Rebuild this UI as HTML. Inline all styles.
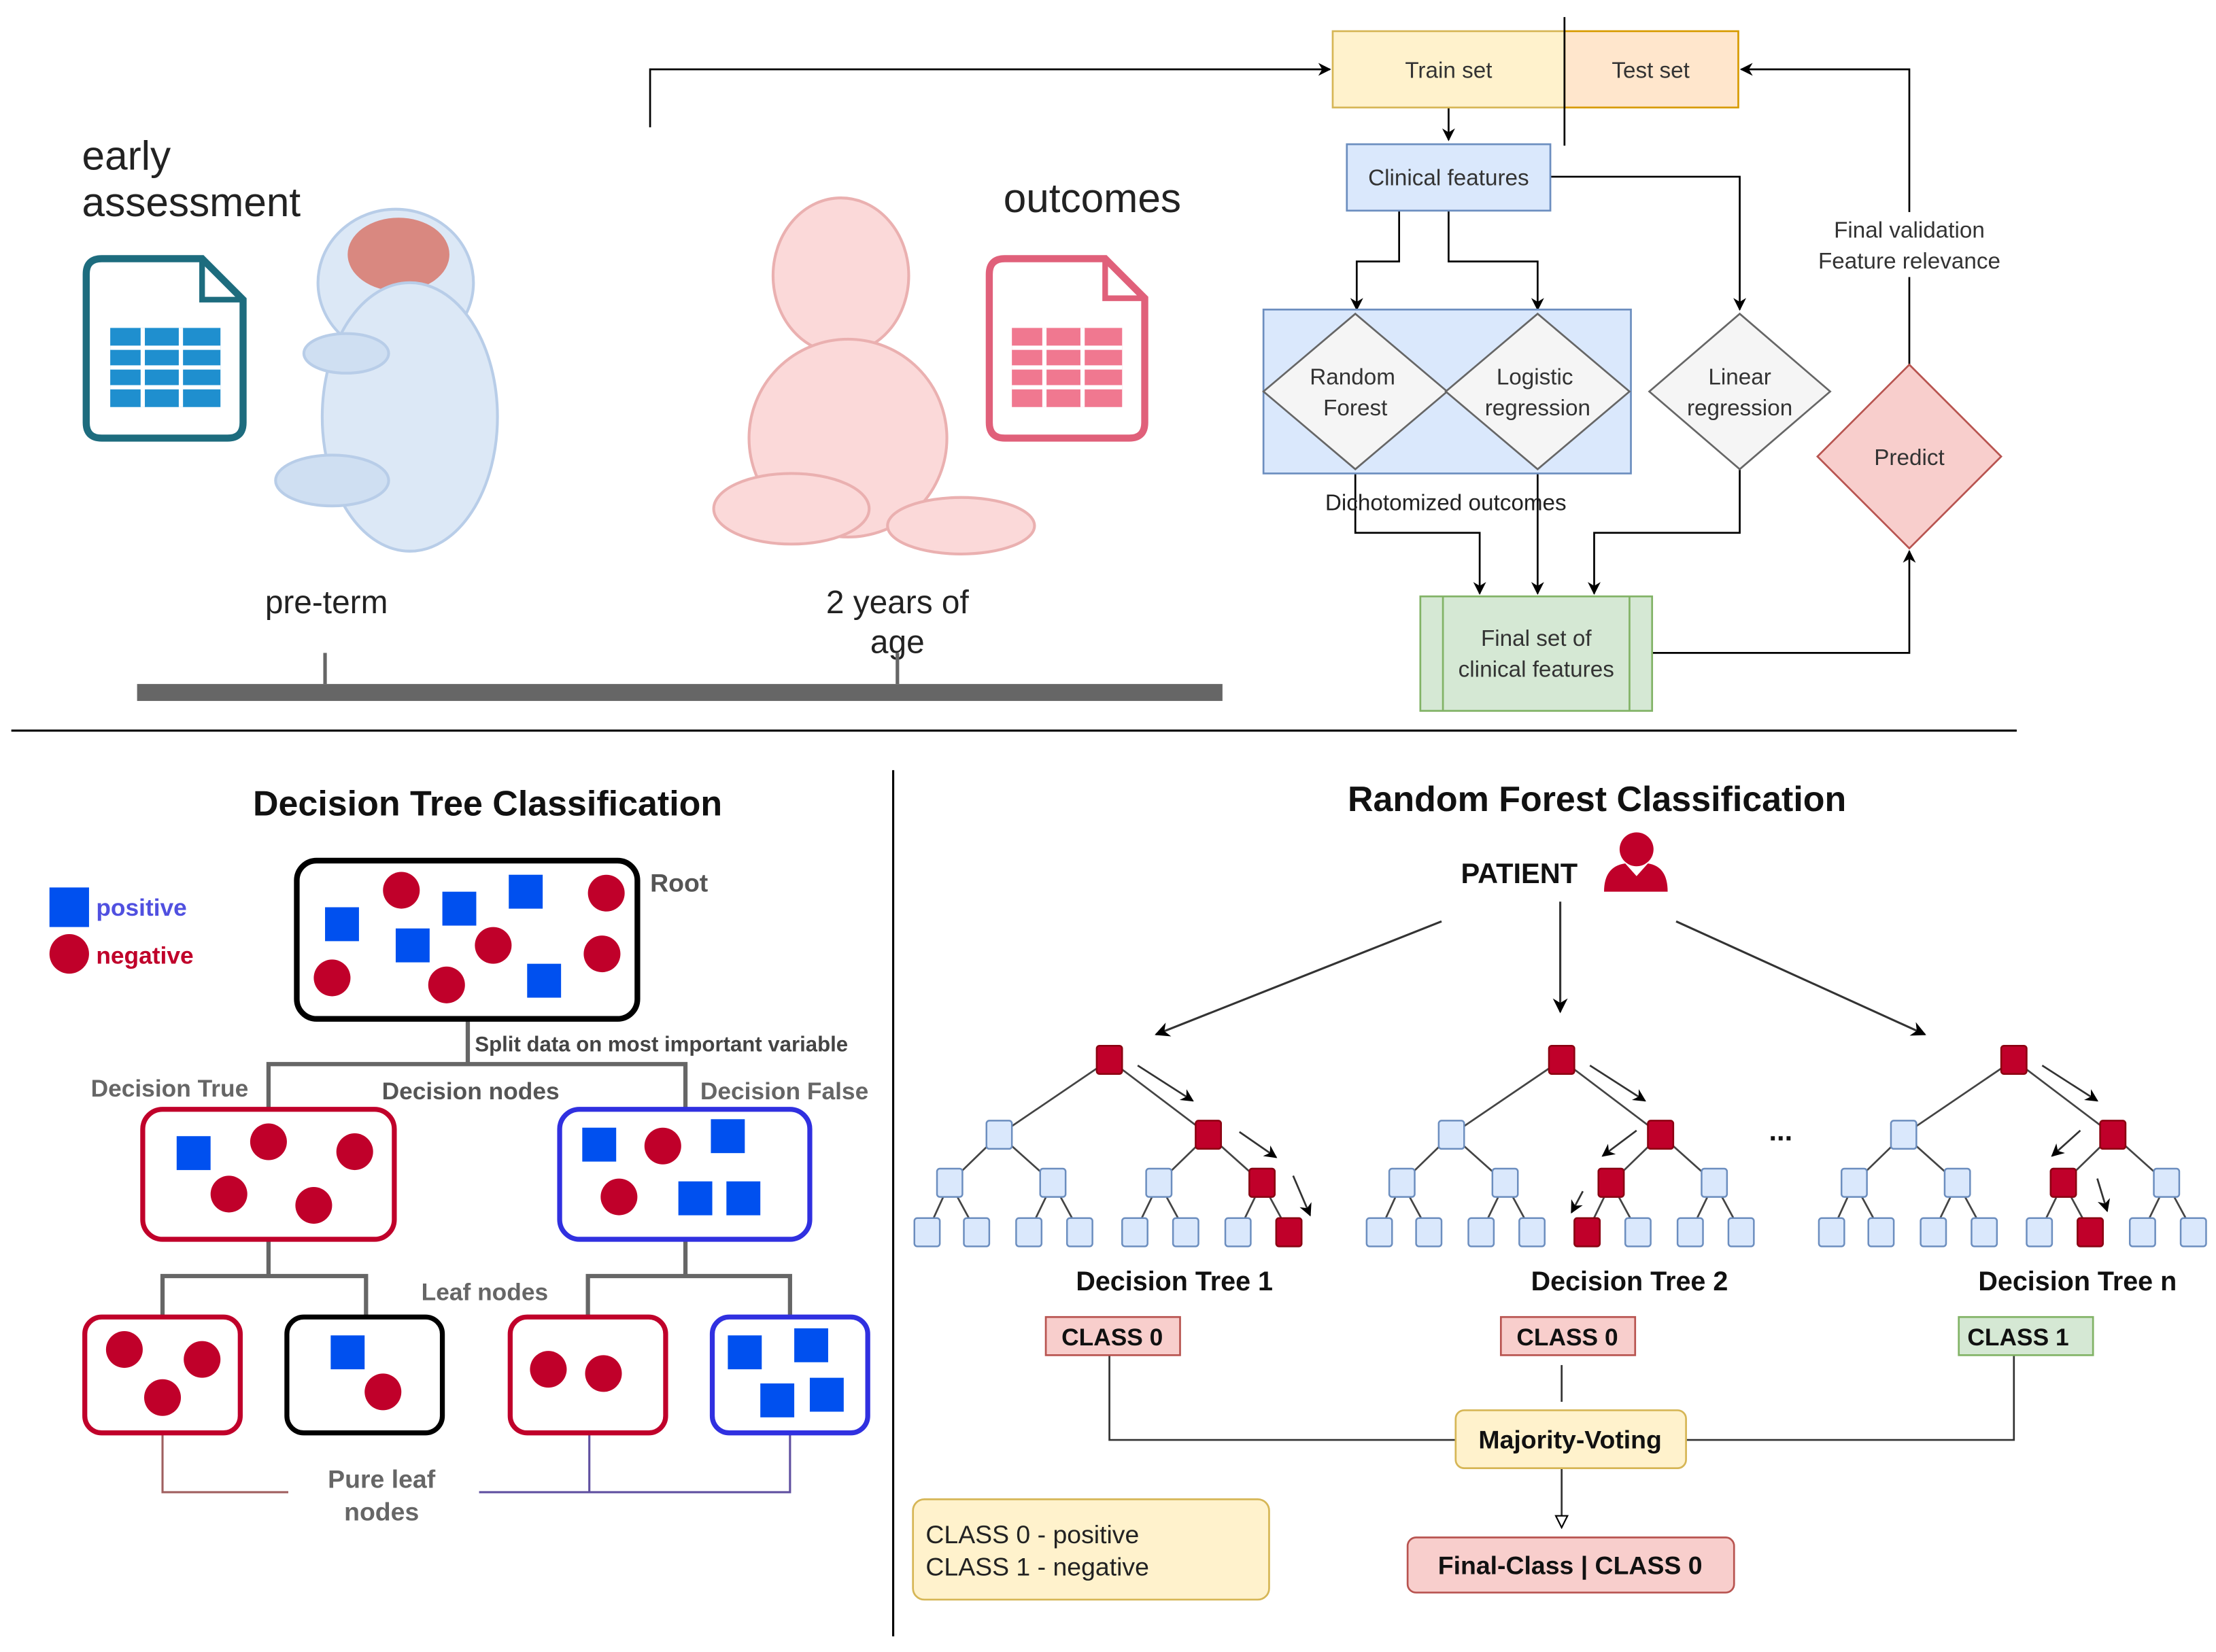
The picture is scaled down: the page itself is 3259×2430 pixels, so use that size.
<!DOCTYPE html>
<html><head><meta charset="utf-8"><style>
html,body{margin:0;padding:0;background:#fff}
svg{display:block}
text{font-family:"Liberation Sans",sans-serif}
</style></head><body>
<svg width="3259" height="2430" viewBox="0 0 1568 1169" xmlns="http://www.w3.org/2000/svg">
<defs>
<marker id="ar" viewBox="0 0 10 10" refX="9" refY="5" markerWidth="7" markerHeight="7" orient="auto-start-reverse"><path d="M0,0 L10,5 L0,10 L3,5 z" fill="#000"/></marker>
<marker id="oa" viewBox="0 0 10 10" refX="9" refY="5" markerWidth="8" markerHeight="8" orient="auto"><path d="M1,1 L9,5 L1,9 z" fill="#fff" stroke="#000"/></marker>
<rect id="b" x="-9" y="-10" width="18" height="20" rx="2" fill="#dae8fc" stroke="#6c8ebf" stroke-width="1.2"/>
<rect id="r" x="-9" y="-10" width="18" height="20" rx="2" fill="#c0002a" stroke="#8b0010" stroke-width="1.2"/>
<g id="tree">
 <g stroke="#444" stroke-width="1.3" fill="none">
  <path d="M785,750 L707,803 M785,750 L855,803 M707,803 L672,837 M707,803 L745,837 M855,803 L820,837 M855,803 L893,837 M672,837 L656,872 M672,837 L691,872 M745,837 L728,872 M745,837 L764,872 M820,837 L803,872 M820,837 L839,872 M893,837 L876,872 M893,837 L912,872"/>
 </g>
 <use href="#r" x="785" y="750"/><use href="#b" x="707" y="803"/><use href="#r" x="855" y="803"/>
 <use href="#b" x="672" y="837"/><use href="#b" x="745" y="837"/><use href="#b" x="820" y="837"/><use href="#b" x="893" y="837"/>
 <use href="#b" x="656" y="872"/><use href="#b" x="691" y="872"/><use href="#b" x="728" y="872"/><use href="#b" x="764" y="872"/><use href="#b" x="803" y="872"/><use href="#b" x="839" y="872"/><use href="#b" x="876" y="872"/><use href="#b" x="912" y="872"/>
 <path d="M805,754 L844,779" stroke="#333" stroke-width="1.3" marker-end="url(#ar)"/>
</g>
</defs>

<g fill="none" stroke="#000" stroke-width="1.3">
<path d="M460,90 L460,49 L941,49" marker-end="url(#ar)"/>
<path d="M1025,76 L1025,99" marker-end="url(#ar)"/>
<path d="M990,149 L990,185 L960,185 L960,219" marker-end="url(#ar)"/>
<path d="M1025,149 L1025,185 L1088,185 L1088,219" marker-end="url(#ar)"/>
<path d="M1097,125 L1231,125 L1231,219" marker-end="url(#ar)"/>
<path d="M959,332 L959,377 L1047,377 L1047,420" marker-end="url(#ar)"/>
<path d="M1088,332 L1088,420" marker-end="url(#ar)"/>
<path d="M1231,332 L1231,377 L1128,377 L1128,420" marker-end="url(#ar)"/>
<path d="M1169,462 L1351,462 L1351,390" marker-end="url(#ar)"/>
<path d="M1351,258 L1351,49 L1232,49" marker-end="url(#ar)"/>
</g>
<rect x="943" y="22" width="164" height="54" fill="#fff2cc" stroke="#d6b656" stroke-width="1.3"/>
<rect x="1107" y="22" width="123" height="54" fill="#ffe6cc" stroke="#d79b00" stroke-width="1.3"/>
<line x1="1107" y1="12" x2="1107" y2="103" stroke="#000" stroke-width="1.3"/>
<text x="1025" y="55" font-size="16" text-anchor="middle" fill="#333">Train set</text>
<text x="1168" y="55" font-size="16" text-anchor="middle" fill="#333">Test set</text>
<rect x="953" y="102" width="144" height="47" fill="#dae8fc" stroke="#6c8ebf" stroke-width="1.3"/>
<text x="1025" y="131" font-size="16" text-anchor="middle" fill="#333">Clinical features</text>
<rect x="894" y="219" width="260" height="116" fill="#dae8fc" stroke="#6c8ebf" stroke-width="1.3"/>
<g fill="#f5f5f5" stroke="#666" stroke-width="1.3">
<path d="M959,222 L1024,277 L959,332 L894,277 z"/>
<path d="M1088,222 L1153,277 L1088,332 L1023,277 z"/>
<path d="M1231,222 L1295,277 L1231,332 L1167,277 z"/>
</g>
<g font-size="16" text-anchor="middle" fill="#333">
<text x="957" y="272">Random</text><text x="959" y="294">Forest</text>
<text x="1086" y="272">Logistic</text><text x="1088" y="294">regression</text>
<text x="1231" y="272">Linear</text><text x="1231" y="294">regression</text>
<rect x="1290" y="150" width="122" height="46" fill="#fff"/>
<text x="1351" y="168">Final validation</text><text x="1351" y="190">Feature relevance</text>
</g>
<text x="1023" y="361" font-size="16" text-anchor="middle" fill="#222">Dichotomized outcomes</text>
<rect x="1005" y="422" width="164" height="81" fill="#d5e8d4" stroke="#82b366" stroke-width="1.3"/>
<line x1="1021" y1="422" x2="1021" y2="503" stroke="#82b366" stroke-width="1.3"/>
<line x1="1153" y1="422" x2="1153" y2="503" stroke="#82b366" stroke-width="1.3"/>
<text x="1087" y="457" font-size="16" text-anchor="middle" fill="#333">Final set of</text>
<text x="1087" y="479" font-size="16" text-anchor="middle" fill="#333">clinical features</text>
<path d="M1351,258 L1416,323 L1351,388 L1286,323 z" fill="#f8cecc" stroke="#b85450" stroke-width="1.3"/>
<text x="1351" y="329" font-size="16" text-anchor="middle" fill="#333">Predict</text>

<text x="58" y="120" font-size="29" fill="#222">early</text>
<text x="58" y="153" font-size="29" fill="#222">assessment</text>
<path d="M72,183 L143,183 L172,212 L172,299 Q172,310 161,310 L72,310 Q61,310 61,299 L61,194 Q61,183 72,183 z" fill="#fff" stroke="#1d6c7e" stroke-width="5"/>
<path d="M143,183 L143,212 L172,212" fill="none" stroke="#1d6c7e" stroke-width="4"/>
<g fill="#1f8fcf"><rect x="78" y="232" width="78" height="56"/></g>
<g stroke="#fff" stroke-width="3"><line x1="78" y1="246" x2="156" y2="246"/><line x1="78" y1="260" x2="156" y2="260"/><line x1="78" y1="274" x2="156" y2="274"/><line x1="101" y1="232" x2="101" y2="288"/><line x1="128" y1="232" x2="128" y2="288"/></g>
<ellipse cx="280" cy="200" rx="55" ry="52" fill="#dce8f6" stroke="#b8cde8" stroke-width="2"/>
<ellipse cx="282" cy="180" rx="36" ry="26" fill="#d98880"/>
<ellipse cx="290" cy="295" rx="62" ry="95" fill="#dce8f6" stroke="#b8cde8" stroke-width="2"/>
<ellipse cx="235" cy="340" rx="40" ry="18" fill="#cfdff2" stroke="#b8cde8" stroke-width="2"/>
<ellipse cx="245" cy="250" rx="30" ry="14" fill="#cfdff2" stroke="#b8cde8" stroke-width="2"/>
<ellipse cx="595" cy="195" rx="48" ry="55" fill="#fbd9d9" stroke="#eab0b0" stroke-width="2"/>
<ellipse cx="600" cy="310" rx="70" ry="70" fill="#fbd9d9" stroke="#eab0b0" stroke-width="2"/>
<ellipse cx="560" cy="360" rx="55" ry="25" fill="#fbd9d9" stroke="#eab0b0" stroke-width="2"/>
<ellipse cx="680" cy="372" rx="52" ry="20" fill="#fbd9d9" stroke="#eab0b0" stroke-width="2"/>
<text x="710" y="150" font-size="29" fill="#222">outcomes</text>
<path d="M711,183 L782,183 L810,211 L810,299 Q810,310 799,310 L711,310 Q700,310 700,299 L700,194 Q700,183 711,183 z" fill="#fff" stroke="#e0607a" stroke-width="5"/>
<path d="M782,183 L782,211 L810,211" fill="none" stroke="#e0607a" stroke-width="4"/>
<rect x="716" y="232" width="78" height="56" fill="#f07890"/>
<g stroke="#fff" stroke-width="3"><line x1="716" y1="246" x2="794" y2="246"/><line x1="716" y1="260" x2="794" y2="260"/><line x1="716" y1="274" x2="794" y2="274"/><line x1="739" y1="232" x2="739" y2="288"/><line x1="766" y1="232" x2="766" y2="288"/></g>
<text x="231" y="434" font-size="23" text-anchor="middle" fill="#222">pre-term</text>
<text x="635" y="434" font-size="23" text-anchor="middle" fill="#222">2 years of</text>
<text x="635" y="462" font-size="23" text-anchor="middle" fill="#222">age</text>
<rect x="97" y="484" width="768" height="12" fill="#666"/>
<line x1="230" y1="462" x2="230" y2="484" stroke="#666" stroke-width="2.5"/>
<line x1="635" y1="462" x2="635" y2="484" stroke="#666" stroke-width="2.5"/>

<line x1="8" y1="517" x2="1427" y2="517" stroke="#000" stroke-width="1.5"/>
<line x1="632" y1="545" x2="632" y2="1158" stroke="#000" stroke-width="1.5"/>

<text x="345" y="577" font-size="25" font-weight="bold" text-anchor="middle" fill="#111">Decision Tree Classification</text>
<rect x="35" y="628" width="28" height="28" fill="#0050ef"/>
<text x="68" y="648" font-size="17" font-weight="bold" fill="#5050e0">positive</text>
<circle cx="49" cy="675" r="14" fill="#c0002a"/>
<text x="68" y="682" font-size="17" font-weight="bold" fill="#c0002a">negative</text>
<g fill="none" stroke="#666" stroke-width="3">
<path d="M331,721 L331,753 M190,785 L190,753 L485,753 L485,785"/>
<path d="M190,877 L190,903 M115,932 L115,903 L259,903 L259,932"/>
<path d="M485,877 L485,903 M416,932 L416,903 L559,903 L559,932"/>
</g>
<path d="M115,1014 L115,1056 L204,1056" fill="none" stroke="#a06060" stroke-width="1.5"/>
<path d="M339,1056 L559,1056 L559,1014 M417,1014 L417,1056" fill="none" stroke="#6050a0" stroke-width="1.5"/>
<rect x="210" y="609" width="241" height="112" rx="14" fill="#fff" stroke="#000" stroke-width="4"/>
<g fill="#c0002a"><circle cx="284" cy="630" r="13"/><circle cx="429" cy="632" r="13"/><circle cx="349" cy="669" r="13"/><circle cx="426" cy="675" r="13"/><circle cx="235" cy="692" r="13"/><circle cx="316" cy="697" r="13"/></g>
<g fill="#0050ef"><rect x="360" y="619" width="24" height="24"/><rect x="313" y="631" width="24" height="24"/><rect x="230" y="642" width="24" height="24"/><rect x="280" y="657" width="24" height="24"/><rect x="373" y="682" width="24" height="24"/></g>
<text x="460" y="631" font-size="18" font-weight="bold" fill="#555">Root</text>
<text x="336" y="744" font-size="15" font-weight="bold" fill="#444">Split data on most important variable</text>
<text x="120" y="776" font-size="17" font-weight="bold" text-anchor="middle" fill="#666">Decision True</text>
<text x="333" y="778" font-size="17" font-weight="bold" text-anchor="middle" fill="#555">Decision nodes</text>
<text x="555" y="778" font-size="17" font-weight="bold" text-anchor="middle" fill="#666">Decision False</text>
<rect x="101" y="785" width="178" height="92" rx="14" fill="#fff" stroke="#c0002a" stroke-width="3.5"/>
<g fill="#c0002a"><circle cx="190" cy="808" r="13"/><circle cx="251" cy="815" r="13"/><circle cx="162" cy="845" r="13"/><circle cx="222" cy="853" r="13"/></g>
<rect x="125" y="804" width="24" height="24" fill="#0050ef"/>
<rect x="396" y="785" width="177" height="92" rx="14" fill="#fff" stroke="#3030e0" stroke-width="3.5"/>
<g fill="#0050ef"><rect x="412" y="798" width="24" height="24"/><rect x="503" y="792" width="24" height="24"/><rect x="480" y="836" width="24" height="24"/><rect x="514" y="836" width="24" height="24"/></g>
<g fill="#c0002a"><circle cx="469" cy="811" r="13"/><circle cx="438" cy="847" r="13"/></g>
<text x="343" y="920" font-size="17" font-weight="bold" text-anchor="middle" fill="#666">Leaf nodes</text>
<rect x="60" y="932" width="110" height="82" rx="12" fill="#fff" stroke="#c0002a" stroke-width="3.5"/>
<g fill="#c0002a"><circle cx="88" cy="955" r="13"/><circle cx="143" cy="962" r="13"/><circle cx="115" cy="989" r="13"/></g>
<rect x="203" y="932" width="110" height="82" rx="12" fill="#fff" stroke="#000" stroke-width="3.5"/>
<rect x="234" y="945" width="24" height="24" fill="#0050ef"/><circle cx="271" cy="985" r="13" fill="#c0002a"/>
<rect x="361" y="932" width="110" height="82" rx="12" fill="#fff" stroke="#c0002a" stroke-width="3.5"/>
<g fill="#c0002a"><circle cx="388" cy="969" r="13"/><circle cx="427" cy="972" r="13"/></g>
<rect x="504" y="932" width="110" height="82" rx="12" fill="#fff" stroke="#3030e0" stroke-width="3.5"/>
<g fill="#0050ef"><rect x="515" y="945" width="24" height="24"/><rect x="562" y="940" width="24" height="24"/><rect x="538" y="979" width="24" height="24"/><rect x="573" y="975" width="24" height="24"/></g>
<text x="270" y="1053" font-size="18" font-weight="bold" text-anchor="middle" fill="#666">Pure leaf</text>
<text x="270" y="1076" font-size="18" font-weight="bold" text-anchor="middle" fill="#666">nodes</text>

<text x="1130" y="574" font-size="25" font-weight="bold" text-anchor="middle" fill="#111">Random Forest Classification</text>
<text x="1075" y="625" font-size="20" font-weight="bold" text-anchor="middle" fill="#111">PATIENT</text>
<circle cx="1158" cy="601" r="12" fill="#c0002a"/>
<path d="M1135,631 Q1135,613 1150,611 L1158,620 L1166,611 Q1180,613 1180,631 z" fill="#c0002a"/>
<g stroke="#333" stroke-width="1.5" fill="none">
<path d="M1020,652 L818,732" marker-end="url(#ar)"/>
<path d="M1104,638 L1104,716" marker-end="url(#ar)"/>
<path d="M1186,652 L1362,732" marker-end="url(#ar)"/>
</g>
<use href="#tree"/>
<use href="#r" x="893" y="837"/><use href="#r" x="912" y="872"/>
<g stroke="#333" stroke-width="1.3" marker-end="url(#ar)"><path d="M877,801 L903,819"/><path d="M915,832 L927,860"/></g>
<g transform="translate(320,0)"><use href="#tree"/>
<use href="#r" x="820" y="837"/><use href="#r" x="803" y="872"/>
<g stroke="#333" stroke-width="1.3" marker-end="url(#ar)"><path d="M838,800 L814,818"/><path d="M800,843 L792,858"/></g></g>
<g transform="translate(640,0)"><use href="#tree"/>
<use href="#r" x="820" y="837"/><use href="#r" x="839" y="872"/>
<g stroke="#333" stroke-width="1.3" marker-end="url(#ar)"><path d="M832,800 L812,818"/><path d="M844,834 L851,857"/></g></g>
<text x="1260" y="807" font-size="20" font-weight="bold" text-anchor="middle" fill="#111">...</text>
<text x="831" y="913" font-size="19" font-weight="bold" text-anchor="middle" fill="#111">Decision Tree 1</text>
<text x="1153" y="913" font-size="19" font-weight="bold" text-anchor="middle" fill="#111">Decision Tree 2</text>
<text x="1470" y="913" font-size="19" font-weight="bold" text-anchor="middle" fill="#111">Decision Tree n</text>
<g fill="none" stroke="#333" stroke-width="1.3">
<path d="M785,959 L785,1019 L1030,1019"/><path d="M1105,966 L1105,992"/><path d="M1425,959 L1425,1019 L1193,1019"/>
<path d="M1105,1039 L1105,1081" marker-end="url(#oa)"/>
</g>
<rect x="740" y="932" width="95" height="27" fill="#f8cecc" stroke="#b85450" stroke-width="1.3"/>
<text x="787" y="952" font-size="17" font-weight="bold" text-anchor="middle" fill="#111">CLASS 0</text>
<rect x="1062" y="932" width="95" height="27" fill="#f8cecc" stroke="#b85450" stroke-width="1.3"/>
<text x="1109" y="952" font-size="17" font-weight="bold" text-anchor="middle" fill="#111">CLASS 0</text>
<rect x="1386" y="932" width="95" height="27" fill="#d5e8d4" stroke="#82b366" stroke-width="1.3"/>
<text x="1428" y="952" font-size="17" font-weight="bold" text-anchor="middle" fill="#111">CLASS 1</text>
<rect x="1030" y="998" width="163" height="41" rx="6" fill="#fff2cc" stroke="#d6b656" stroke-width="1.3"/>
<text x="1111" y="1025" font-size="18" font-weight="bold" text-anchor="middle" fill="#111">Majority-Voting</text>
<rect x="996" y="1088" width="231" height="39" rx="6" fill="#f8cecc" stroke="#b85450" stroke-width="1.3"/>
<text x="1111" y="1114" font-size="18" font-weight="bold" text-anchor="middle" fill="#111">Final-Class  | CLASS 0</text>
<rect x="646" y="1061" width="252" height="71" rx="8" fill="#fff2cc" stroke="#d6b656" stroke-width="1.3"/>
<text x="655" y="1092" font-size="18" fill="#222">CLASS 0 - positive</text>
<text x="655" y="1115" font-size="18" fill="#222">CLASS 1 - negative</text>
</svg>
</body></html>
